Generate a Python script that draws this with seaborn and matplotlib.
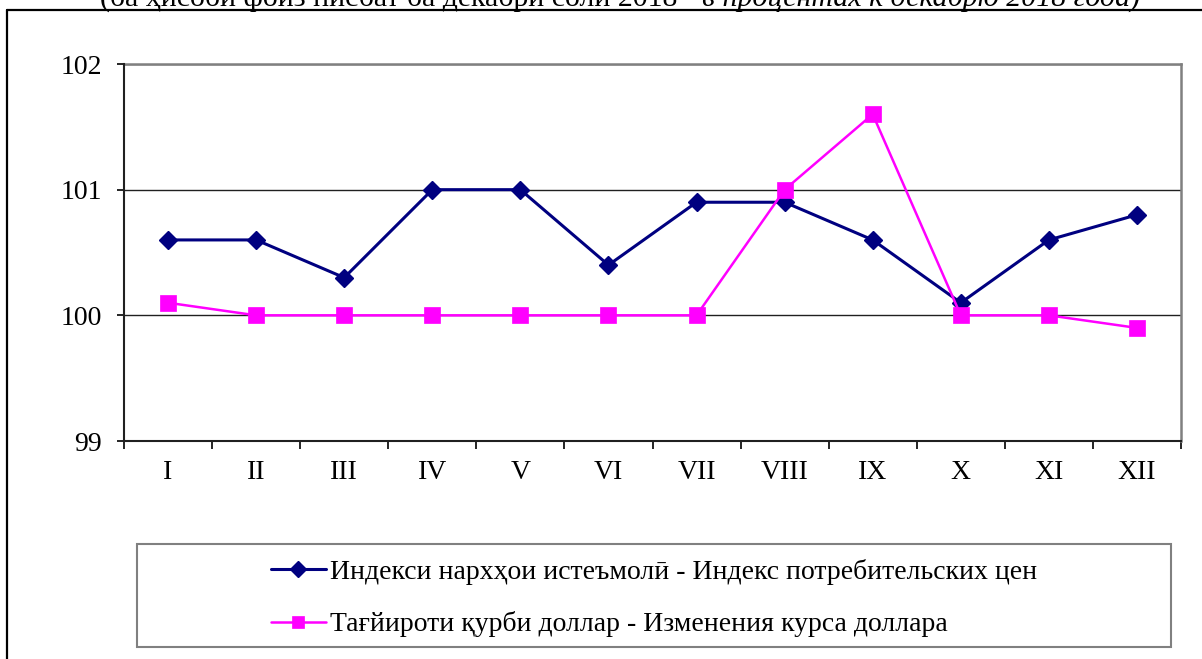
import matplotlib
matplotlib.use("Agg")
import matplotlib.pyplot as plt
import matplotlib.patches as mpatches
from matplotlib.lines import Line2D
import seaborn as sns
import numpy as np
import pandas as pd

# data
months = ['I', 'II', 'III', 'IV', 'V', 'VI', 'VII', 'VIII', 'IX', 'X', 'XI', 'XII']
cpi = [100.6, 100.6, 100.3, 101.0, 101.0, 100.4, 100.9, 100.9, 100.6, 100.1, 100.6, 100.8]
usd = [100.1, 100.0, 100.0, 100.0, 100.0, 100.0, 100.0, 101.0, 101.6, 100.0, 100.0, 99.9]
cpi_label = 'Индекси нархҳои истеъмолӣ - Индекс потребительских цен'
usd_label = 'Тағйироти қурби доллар - Изменения курса доллара'
y_ticks = [99, 100, 101, 102]
title_plain = '(ба ҳисоби фоиз нисбат ба декабри соли 2018 - '
title_italic = 'в процентах к декабрю 2018 года)'

sns.set_theme(style="white")
plt.rcParams['font.family'] = ['Liberation Serif', 'DejaVu Serif']
plt.rcParams['text.color'] = 'black'
plt.rcParams['xtick.color'] = 'black'
plt.rcParams['ytick.color'] = 'black'
plt.rcParams['xtick.labelcolor'] = 'black'
plt.rcParams['ytick.labelcolor'] = 'black'

W, H = 1202, 659
fig = plt.figure(figsize=(W / 100, H / 100), dpi=100)
ax = fig.add_axes([124 / W, 1 - 441 / H, (1181 - 124) / W, (441 - 64) / H])

df = pd.DataFrame({'pos': np.arange(len(months)), 'cpi': cpi, 'usd': usd})
sns.lineplot(data=df, x='pos', y='cpi', ax=ax, color='#000080', lw=2.2,
             marker='D', markersize=9.5, markeredgewidth=1, markeredgecolor='#000080',
             label=cpi_label, zorder=3)
sns.lineplot(data=df, x='pos', y='usd', ax=ax, color='#ff00ff', lw=1.8,
             marker='s', markersize=11, markeredgewidth=0.5, markeredgecolor='#ff00ff',
             label=usd_label, zorder=4)

ax.set_xlim(-0.5, len(months) - 0.5)
ax.set_ylim(y_ticks[0], y_ticks[-1])
ax.set_yticks(y_ticks)
ax.set_yticklabels([str(v) for v in y_ticks])
ax.set_xticks(np.arange(len(months)))
ax.set_xticklabels(months)
ax.set_xticks(np.arange(len(months) + 1) - 0.5, minor=True)
ax.set_xlabel('')
ax.set_ylabel('')

ax.tick_params(axis='x', which='major', length=0, pad=14, labelsize=20, colors='black')
ax.tick_params(axis='x', which='minor', length=6, width=1.2, direction='out',
               color='black', bottom=True)
ax.tick_params(axis='y', which='major', length=5, width=1.2, direction='out',
               pad=11, labelsize=20, colors='black', left=True)

ax.grid(axis='y', color='#202020', lw=1.0)
ax.grid(axis='x', visible=False)
for side in ['left', 'bottom']:
    ax.spines[side].set_color('#202020')
    ax.spines[side].set_linewidth(1.5)
for side in ['top', 'right']:
    ax.spines[side].set_color('#808080')
    ax.spines[side].set_linewidth(1.8)
ax.spines['left'].set_zorder(5)

# legend: gray box with centred entries
handles, labels = ax.get_legend_handles_labels()
ax.get_legend().remove()
fig.add_artist(mpatches.Rectangle((137 / W, 1 - 647 / H), (1171 - 137) / W, (647 - 544) / H,
                                  transform=fig.transFigure, fill=False,
                                  edgecolor='#808080', lw=1.5))
fig.legend(handles, labels, loc='center', bbox_to_anchor=(654 / W, 1 - 598 / H),
           frameon=False, fontsize=20, handlelength=2.0, handletextpad=0.15,
           labelspacing=0.97, markerscale=0.85, labelcolor='black')

# outer frame (only top and left edges visible)
fig.add_artist(Line2D([7 / W, 1], [1 - 10 / H, 1 - 10 / H], transform=fig.transFigure,
                      color='black', lw=1.6))
fig.add_artist(Line2D([7 / W, 7 / W], [0, 1 - 10 / H], transform=fig.transFigure,
                      color='black', lw=1.6))

# subtitle at the very top, cut off by the edge as in the source
t1 = fig.text(0, 1 - 6 / H, title_plain, fontsize=21.5, va='baseline', ha='left')
t2 = fig.text(0, 1 - 6 / H, title_italic, fontsize=21.5, va='baseline', ha='left',
              style='italic')
fig.canvas.draw()
r = fig.canvas.get_renderer()
w1 = t1.get_window_extent(r).width
w2 = t2.get_window_extent(r).width
x0 = 620 - (w1 + w2) / 2
t1.set_x(x0 / W)
t2.set_x((x0 + w1) / W)

fig.savefig('out.png', dpi=100)
